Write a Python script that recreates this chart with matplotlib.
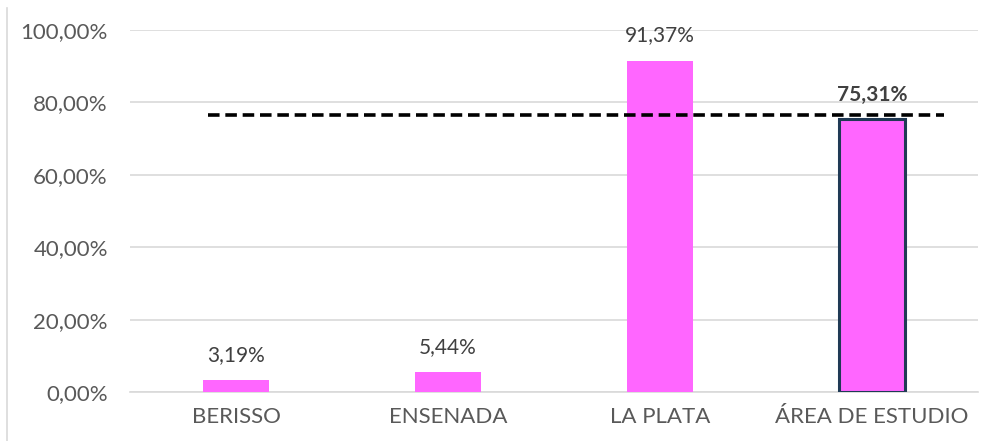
import matplotlib
matplotlib.use("Agg")
import matplotlib.pyplot as plt
from matplotlib.lines import Line2D
from matplotlib.ticker import FuncFormatter

categories = ["BERISSO", "ENSENADA", "LA PLATA", "ÁREA DE ESTUDIO"]
values = [3.19, 5.44, 91.37, 75.31]
reference_level = 76.4
y_ticks = [0, 20, 40, 60, 80, 100]

plt.rcParams["font.family"] = ["Lato", "DejaVu Sans"]

fig = plt.figure(figsize=(9.95, 4.41), dpi=100)
ax = fig.add_axes([130 / 995, 1 - 392 / 441, 848 / 995, 362 / 441])

bar_color = "#FF66FF"
x = list(range(len(categories)))
bars = ax.bar(x, values, width=0.31, color=bar_color, zorder=3)
bars[-1].set_edgecolor("#203A55")
bars[-1].set_linewidth(2.2)

def pct(v):
    return f"{v:.2f}".replace(".", ",") + "%"

for i, v in enumerate(values):
    bold = i == len(values) - 1
    ax.annotate(pct(v), xy=(i, v), xytext=(0, 18.5 if not bold else 17.5),
                textcoords="offset points", ha="center", va="center",
                fontsize=15, color="#404040",
                fontweight="bold" if bold else "normal", zorder=5)

ax.plot([-0.13, 3.34], [reference_level, reference_level], color="black",
        linestyle=(0, (3.2, 1.6)), linewidth=2.6, zorder=4)

ax.set_xlim(-0.5, 3.5)
ax.set_ylim(0, 100)
ax.set_yticks(y_ticks)
ax.yaxis.set_major_formatter(FuncFormatter(lambda v, p: pct(v)))
ax.set_xticks(x)
ax.set_xticklabels(categories)
ax.grid(axis="y", color="#D9D9D9", linewidth=1.2, zorder=0)
for s in ["top", "right", "left"]:
    ax.spines[s].set_visible(False)
ax.spines["bottom"].set_color("#D9D9D9")
ax.spines["bottom"].set_linewidth(1.2)
ax.tick_params(axis="both", length=0, labelsize=16, colors="#595959")
ax.tick_params(axis="y", pad=16)
ax.tick_params(axis="x", pad=11)

fig.add_artist(Line2D([7 / 995, 7 / 995], [0, 1 - 8 / 441],
                      transform=fig.transFigure, color="#D9D9D9", linewidth=1.2))

fig.savefig("out.png", dpi=100)
